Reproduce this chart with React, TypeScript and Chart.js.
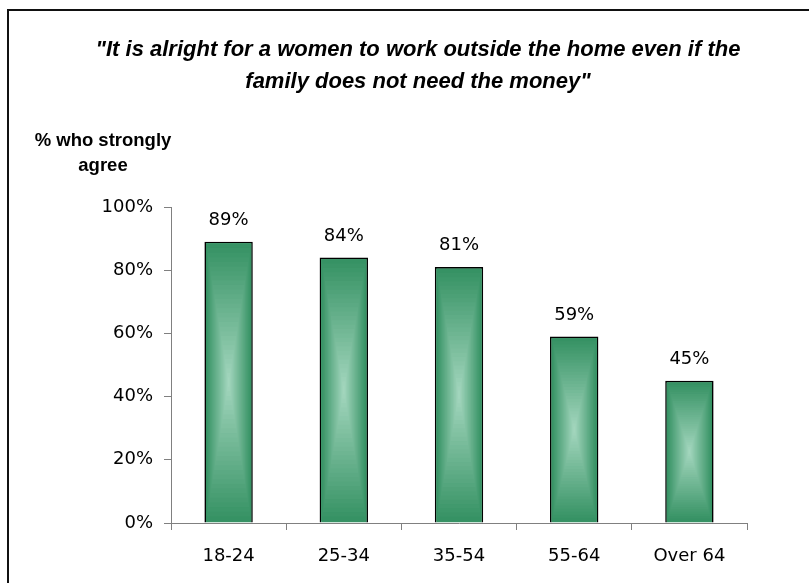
import React, { useEffect, useRef } from "react";
import { Chart, registerables } from "chart.js";

Chart.register(...registerables);

const categories = ["18-24", "25-34", "35-54", "55-64", "Over 64"];
const values = [89, 84, 81, 59, 45];
const yMin = 0;
const yMax = 100;
const yStep = 20;
const titleLines = [
  "\"It is alright for a women to work outside the home even if the",
  "family does not need the money\"",
];
const yLabelLines = ["% who strongly", "agree"];

const TICK_FONT = '"DejaVu Sans"';
const EDGE = [54, 146, 100];
const CENTER = [166, 216, 192];

const gradientBars = {
  id: "gradientBars",
  afterDatasetsDraw(chart: any) {
    const ctx = chart.ctx;
    const meta = chart.getDatasetMeta(0);
    ctx.save();
    meta.data.forEach((bar: any) => {
      const p = bar.getProps(["x", "y", "base", "width"], true);
      const bw = 1.6;
      const left = p.x - p.width / 2 + bw;
      const right = p.x + p.width / 2 - bw;
      const top = p.y + bw;
      const bottom = p.base - bw;
      const cx = (left + right) / 2;
      const cy = (top + bottom) / 2;
      const hw = (right - left) / 2;
      const hh = (bottom - top) / 2;
      const N = 30;
      for (let k = 0; k < N; k++) {
        const t = k / N;
        const s = 1 - t;
        const c = EDGE.map((e, j) => Math.round(e + (CENTER[j] - e) * Math.pow(t, 1.0)));
        ctx.fillStyle = `rgb(${c[0]},${c[1]},${c[2]})`;
        ctx.fillRect(cx - hw * s, cy - hh * s, hw * s * 2, hh * s * 2);
      }
    });
    ctx.restore();
  },
};

const labelsAndFrame = {
  id: "labelsAndFrame",
  afterDraw(chart: any) {
    const ctx = chart.ctx;
    const meta = chart.getDatasetMeta(0);
    ctx.save();
    // data labels
    ctx.fillStyle = "#000";
    ctx.font = `18px ${TICK_FONT}`;
    ctx.textAlign = "center";
    ctx.textBaseline = "alphabetic";
    meta.data.forEach((bar: any, i: number) => {
      const p = bar.getProps(["x", "y"], true);
      ctx.fillText(values[i] + "%", p.x, p.y - 17);
    });
    // title
    ctx.font = 'italic bold 22px "Liberation Sans"';
    ctx.textBaseline = "middle";
    ctx.fillText(titleLines[0], 418, 50);
    ctx.fillText(titleLines[1], 418, 82);
    // y label
    ctx.font = 'bold 18.5px "Liberation Sans"';
    ctx.fillText(yLabelLines[0], 103, 141);
    ctx.fillText(yLabelLines[1], 103, 166);
    // frame
    ctx.strokeStyle = "#111";
    ctx.lineWidth = 2;
    ctx.beginPath();
    ctx.moveTo(8, 583);
    ctx.lineTo(8, 10);
    ctx.lineTo(809, 10);
    ctx.stroke();
    ctx.restore();
  },
};

export default function App() {
  const ref = useRef<HTMLCanvasElement | null>(null);
  useEffect(() => {
    if (!ref.current) return;
    const chart = new Chart(ref.current, {
      type: "bar",
      data: {
        labels: categories,
        datasets: [
          {
            data: values,
            backgroundColor: "rgb(54,146,100)",
            borderColor: "#000",
            borderWidth: 1.6,
            categoryPercentage: 1,
            barPercentage: 0.42,
          },
        ],
      },
      options: {
        animation: false,
        responsive: false,
        devicePixelRatio: 1,
        layout: { padding: { left: 0, right: 62, top: 207, bottom: 0 } },
        plugins: { legend: { display: false }, tooltip: { enabled: false }, title: { display: false } },
        scales: {
          y: {
            min: yMin,
            max: yMax,
            ticks: {
              stepSize: yStep,
              callback: (v: any) => v + "%",
              font: { family: TICK_FONT, size: 18 },
              color: "#000",
              padding: 11,
            },
            grid: { drawOnChartArea: false, tickLength: 7, color: "#808080", lineWidth: 1 },
            border: { color: "#808080", width: 1 },
            afterFit: (s: any) => {
              s.width = 171;
            },
          },
          x: {
            ticks: {
              font: { family: TICK_FONT, size: 18 },
              color: "#000",
              padding: 16,
              maxRotation: 0,
            },
            grid: { drawOnChartArea: false, tickLength: 7, color: "#808080", lineWidth: 1 },
            border: { color: "#808080", width: 1 },
            afterFit: (s: any) => {
              s.height = 60;
            },
          },
        },
      },
      plugins: [gradientBars, labelsAndFrame],
    });
    return () => chart.destroy();
  }, []);
  return (
    <div style={{ position: "absolute", left: 0, top: 0, width: 809, height: 583, background: "#fff" }}>
      <canvas ref={ref} width={809} height={583} style={{ display: "block" }} />
    </div>
  );
}
